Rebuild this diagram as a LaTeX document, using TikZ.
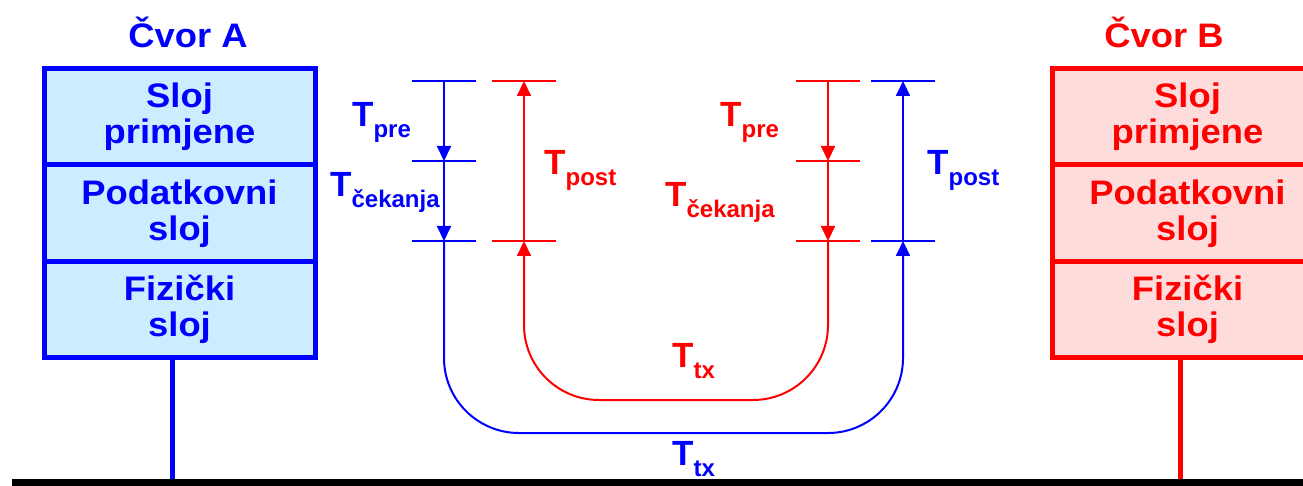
\documentclass[tikz,border=0pt]{standalone}
\usepackage{fontspec}
\setmainfont{Liberation Sans}
\newfontfamily\widefont[FakeStretch=1.07]{Liberation Sans}
\usetikzlibrary{arrows.meta}
\definecolor{cblue}{RGB}{0,0,255}
\definecolor{cred}{RGB}{255,0,0}
\definecolor{lblue}{RGB}{204,236,255}
\definecolor{lred}{RGB}{255,220,220}
\tikzset{
 layer/.style={draw, line width=5pt, minimum width=271pt, inner sep=0pt, font=\widefont\bfseries\fontsize{34}{36}\selectfont, align=center},
 title/.style={font=\widefont\bfseries\fontsize{34}{36}\selectfont, anchor=base, inner sep=0pt},
 tick/.style={line width=2pt},
 dim/.style={line width=2pt, -{Triangle[length=15pt,width=14pt]}},
 tlab/.style={anchor=base west, inner sep=0pt, font=\bfseries\fontsize{35}{35}\selectfont},
 stem/.style={line width=5pt},
}
\newcommand{\tsub}[1]{T\raisebox{-11pt}{\fontsize{24}{24}\selectfont #1}}
\begin{document}
\begin{tikzpicture}[x=1pt,y=-1pt]
\useasboundingbox (0,0) rectangle (1303,486);
\clip (0,0) rectangle (1303,486);
% ground
\node[fill=black, inner sep=0pt, minimum width=1298pt, minimum height=9pt, anchor=north west] (ground) at (12,479) {};
% node A
\node[title, text=cblue] (ta) at (188,48) {Čvor A};
\node[layer, draw=cblue, fill=lblue, text=cblue, minimum height=96pt] (a1) at (179.5,117) {Sloj\\primjene};
\node[layer, draw=cblue, fill=lblue, text=cblue, minimum height=97pt] (a2) at (179.5,213.5) {Podatkovni\\sloj};
\node[layer, draw=cblue, fill=lblue, text=cblue, minimum height=95pt] (a3) at (179.5,309.5) {Fizički\\sloj};
\draw[stem, cblue] ([xshift=-7.5pt]a3.south) -- ([xshift=-7.5pt]a3.south |- ground.north);
% node B
\node[title, text=cred] (tb) at (1164,48) {Čvor B};
\node[layer, draw=cred, fill=lred, text=cred, minimum height=96pt] (b1) at (1187.5,117) {Sloj\\primjene};
\node[layer, draw=cred, fill=lred, text=cred, minimum height=97pt] (b2) at (1187.5,213.5) {Podatkovni\\sloj};
\node[layer, draw=cred, fill=lred, text=cred, minimum height=95pt] (b3) at (1187.5,309.5) {Fizički\\sloj};
\draw[stem, cred] ([xshift=-7.5pt]b3.south) -- ([xshift=-7.5pt]b3.south |- ground.north);
% timing coordinates
\coordinate (bt1) at (444,81);
\coordinate (bt2) at (444,161);
\coordinate (bt3) at (444,241);
\coordinate (rt1) at (524,81);
\coordinate (rt3) at (524,241);
\coordinate (rr1) at (828,81);
\coordinate (rr2) at (828,161);
\coordinate (rr3) at (828,241);
\coordinate (br1) at (903,81);
\coordinate (br3) at (903,241);
\coordinate (bcl) at (444,433);
\coordinate (bcr) at (903,433);
\coordinate (rcl) at (524,400);
\coordinate (rcr) at (828,400);
% ticks
\foreach \c in {bt1,bt2,bt3,br1,br3}
  \draw[tick, cblue] ([xshift=-32pt]\c) -- ([xshift=32pt]\c);
\foreach \c in {rt1,rt3,rr1,rr2,rr3}
  \draw[tick, cred] ([xshift=-32pt]\c) -- ([xshift=32pt]\c);
% arrows
\draw[dim, cblue] (bt1) -- (bt2);
\draw[dim, cblue] (bt2) -- (bt3);
\draw[dim, cred] (rr1) -- (rr2);
\draw[dim, cred] (rr2) -- (rr3);
\draw[dim, cred] (rt3) -- (rt1);
\draw[dim, cblue] (br3) -- (br1);
\draw[dim, cblue, rounded corners=75pt] (bt3) -- (bcl) -- (bcr) -- (br3);
\draw[dim, cred, rounded corners=75pt] (rr3) -- (rcr) -- (rcl) -- (rt3);
% labels
\node[tlab, text=cblue] (lpa) at (352,127) {\tsub{pre}};
\node[tlab, text=cblue] (lca) at (330,197) {\tsub{čekanja}};
\node[tlab, text=cred] (lpoa) at (544,175) {\tsub{post}};
\node[tlab, text=cred] (lpb) at (720,127) {\tsub{pre}};
\node[tlab, text=cred] (lcb) at (665,207) {\tsub{čekanja}};
\node[tlab, text=cblue] (lpob) at (927,175) {\tsub{post}};
\node[tlab, text=cred] (ltxr) at (672,367) {\tsub{tx}};
\node[tlab, text=cblue] (ltxb) at (672,465) {\tsub{tx}};
\end{tikzpicture}
\end{document}
